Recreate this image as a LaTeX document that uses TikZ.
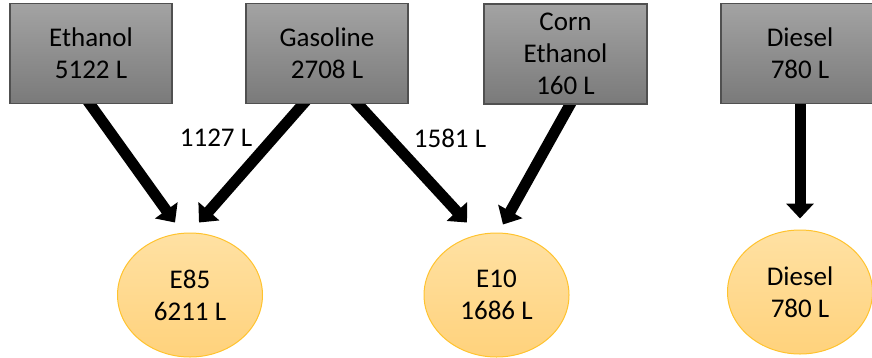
\documentclass[tikz,border=0pt]{standalone}
\usepackage{fontspec}
\setmainfont{Carlito}
\usetikzlibrary{shapes.geometric,arrows.meta,calc,backgrounds}
\definecolor{boxtop}{HTML}{A3A3A3}
\definecolor{boxbot}{HTML}{7A7A7A}
\definecolor{boxline}{HTML}{505050}
\definecolor{elltop}{HTML}{FFE1A3}
\definecolor{ellbot}{HTML}{FFD27C}
\definecolor{ellline}{HTML}{FFC32E}
\tikzset{
  x=1pt, y=-1pt,
  lbl/.style={font=\fontsize{27}{32}\selectfont, align=center, text=black, inner sep=0pt},
  srcbox/.style={lbl, rectangle, draw=boxline, line width=1.2pt, top color=boxtop, bottom color=boxbot, minimum height=100pt},
  dest/.style={lbl, ellipse, draw=ellline, line width=1pt, top color=elltop, bottom color=ellbot, minimum width=145pt, minimum height=124pt},
  flow/.style={line width=11pt, -{Triangle[width=27pt,length=15pt]}},
}
\begin{document}
\begin{tikzpicture}
\useasboundingbox (0,0) rectangle (872,357);
\clip (0,0) rectangle (872,357);
\node[srcbox, minimum width=162pt] (eth) at (91,53.5) {Ethanol\\5122 L};
\node[srcbox, minimum width=162pt] (gas) at (327,53.5) {Gasoline\\2708 L};
\node[srcbox, minimum width=163pt] (corn) at (565.5,54) {Corn\\Ethanol\\160 L};
\node[srcbox, minimum width=158pt] (dsl) at (800,53.5) {Diesel\\780 L};
\node[dest] (e85) at (190,295) {E85\\6211 L};
\node[dest] (e10) at (496.5,295) {E10\\1686 L};
\node[dest] (dsl2) at (800,292) {Diesel\\780 L};
\node[lbl] (l1) at (216,138) {1127 L};
\node[lbl] (l2) at (450,138) {1581 L};
\coordinate (s1) at ([xshift=-1pt]eth.south);
\coordinate (t1) at ([xshift=-15pt,yshift=10pt]e85.north);
\coordinate (s2) at ([xshift=-24pt]gas.south);
\coordinate (t2) at ([xshift=9pt,yshift=10pt]e85.north);
\coordinate (s3) at ([xshift=31pt]gas.south);
\coordinate (t3) at ([xshift=-29.5pt,yshift=10pt]e10.north);
\coordinate (s4) at ([xshift=4.5pt]corn.south);
\coordinate (t4) at ([xshift=6.5pt,yshift=8pt]e10.north);
\coordinate (s5) at (dsl.south);
\coordinate (t5) at ([yshift=11pt]dsl2.north);
\begin{scope}[on background layer]
\draw[flow] ($(s1)!-12pt!(t1)$) -- (t1);
\draw[flow] ($(s2)!-12pt!(t2)$) -- (t2);
\draw[flow] ($(s3)!-12pt!(t3)$) -- (t3);
\draw[flow] ($(s4)!-12pt!(t4)$) -- (t4);
\draw[flow] ($(s5)!-12pt!(t5)$) -- (t5);
\end{scope}
\end{tikzpicture}
\end{document}
